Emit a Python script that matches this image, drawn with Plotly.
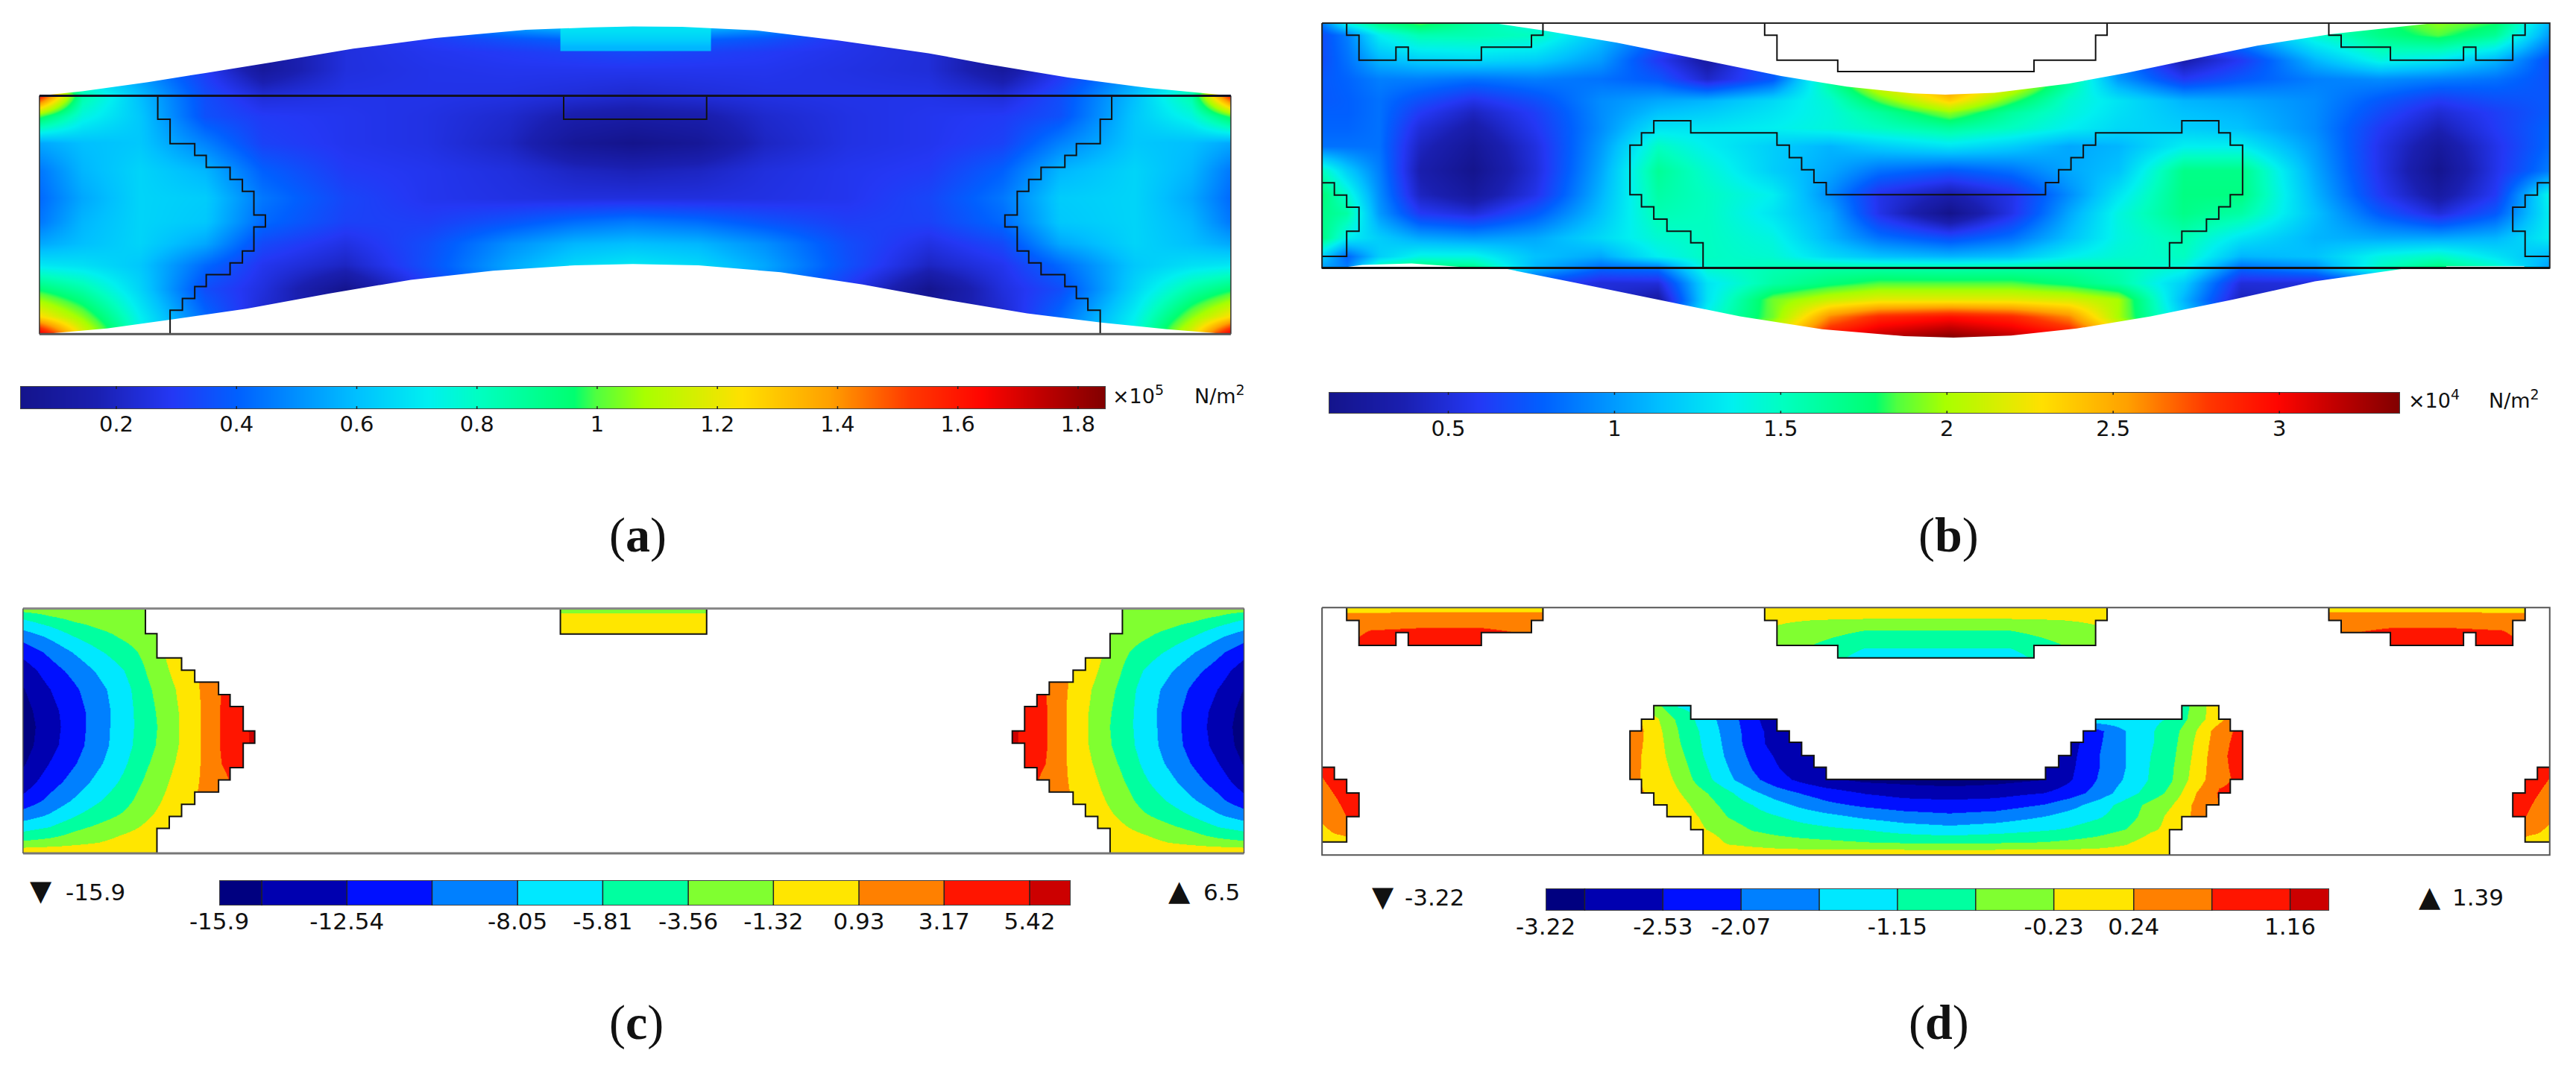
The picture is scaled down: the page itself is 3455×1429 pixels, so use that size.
import plotly.graph_objects as go

W, H = 3455, 1429
FONT = "DejaVu Sans"

# ---- panel (a): stress field, x/y read in the crop coordinates of the tile
a_x = [48, 100, 170, 250, 320, 420, 520, 620, 700, 770, 850, 930, 1030, 1130, 1220, 1290, 1380, 1450, 1498]
a_y = [85, 130, 170, 230, 315, 380, 470, 560, 650, 730, 800, 870, 950, 1040, 1098]
a_z = [
    [.6, .6, .5, .3, .2, .25, .4, .55, .62, .64, .62, .55, .4, .2, .15, .3, .5, .6, .6],
    [.6, .6, .5, .3, .17, .25, .3, .36, .4, .42, .4, .36, .28, .22, .13, .25, .5, .6, .6],
    [.6, .6, .5, .3, .1, .25, .28, .3, .32, .34, .32, .3, .27, .24, .1, .25, .5, .6, .6],
    [.6, .6, .5, .3, .1, .25, .27, .28, .28, .28, .28, .28, .26, .24, .1, .28, .5, .6, .6],
    [1.6, .85, .6, .35, .24, .27, .27, .26, .24, .22, .24, .26, .27, .27, .24, .35, .6, .85, 1.6],
    [1.0, .75, .62, .36, .3, .28, .26, .22, .15, .13, .15, .22, .26, .28, .3, .36, .62, .75, 1.0],
    [.55, .6, .62, .47, .32, .28, .26, .2, .08, .04, .08, .2, .26, .28, .32, .47, .62, .6, .55],
    [.45, .58, .65, .58, .4, .3, .28, .25, .2, .18, .2, .25, .28, .3, .4, .58, .65, .58, .45],
    [.42, .55, .65, .63, .45, .33, .28, .26, .25, .25, .25, .26, .28, .33, .45, .63, .65, .55, .42],
    [.45, .58, .65, .62, .42, .32, .31, .37, .43, .46, .43, .37, .31, .32, .42, .62, .65, .58, .45],
    [.55, .6, .65, .55, .34, .26, .35, .5, .58, .6, .58, .5, .35, .26, .34, .55, .65, .6, .55],
    [.7, .68, .62, .42, .28, .2, .36, .55, .66, .7, .66, .55, .36, .2, .28, .42, .62, .68, .7],
    [.95, .85, .65, .35, .25, .05, .3, .5, .62, .66, .62, .5, .3, .05, .25, .35, .65, .85, .95],
    [1.25, 1.05, .72, .42, .22, .1, .3, .5, .6, .65, .6, .5, .3, .1, .22, .42, .72, 1.05, 1.25],
    [1.7, 1.2, .75, .45, .25, .1, .3, .5, .6, .65, .6, .5, .3, .1, .25, .45, .75, 1.2, 1.7],
]
a_patch_x = [682, 770, 865]
a_patch_y = [87, 115, 140, 168]
a_patch_z = [[.68, .68], [.64, .64], [.58, .58]]

# ---- panel (b)
b_x = [41, 71, 110, 160, 225, 300, 380, 450, 510, 590, 660, 720, 805, 880, 950, 1010, 1090, 1160, 1250, 1330, 1400, 1470, 1536]
b_y = [76, 116, 198, 260, 330, 370, 420, 480, 560, 640, 700, 780, 843, 881, 930, 985, 1040, 1110]
b_z = [
    [.9, 1.4, 1.7, 1.85, 1.6, 1.4, 1.2, .9, .75, 1.0, 1.6, 2.2, 2.6, 2.2, 1.6, 1.0, .8, 1.0, 1.5, 1.75, 1.95, 1.8, 1.1],
    [.7, .9, 1.35, 1.55, 1.55, 1.5, 1.15, .8, .7, 1.0, 1.6, 2.2, 2.6, 2.2, 1.6, 1.0, .7, 1.0, 1.45, 1.7, 1.85, 1.65, 1.0],
    [.7, .85, 1.1, 1.2, 1.25, 1.2, 1.0, .6, .3, .8, 1.6, 2.2, 2.6, 2.2, 1.6, .9, .35, .6, 1.1, 1.4, 1.3, 1.1, .7],
    [.75, .8, .9, .9, .85, .9, .85, .75, .45, .75, 1.65, 2.3, 2.75, 2.3, 1.65, 1.0, .6, .75, .9, .95, .9, .85, .72],
    [.75, .78, .85, .7, .55, .7, .95, 1.05, 1.1, 1.25, 1.45, 1.85, 2.35, 1.85, 1.45, 1.3, 1.1, 1.05, .95, .75, .6, .7, .75],
    [.78, .78, .85, .6, .42, .62, .95, 1.15, 1.2, 1.3, 1.42, 1.62, 1.95, 1.62, 1.42, 1.28, 1.15, 1.1, .95, .68, .48, .62, .76],
    [.8, .8, .85, .5, .32, .58, .95, 1.3, 1.3, 1.35, 1.42, 1.5, 1.62, 1.5, 1.35, 1.25, 1.2, 1.15, .95, .6, .38, .6, .8],
    [.85, .85, .85, .42, .22, .52, 1.0, 1.5, 1.35, 1.2, 1.1, 1.2, 1.3, 1.2, 1.05, 1.1, 1.35, 1.35, 1.0, .55, .25, .55, .82],
    [1.5, 1.2, .9, .35, .15, .5, 1.05, 1.65, 1.45, 1.2, 1.05, .85, .75, .85, 1.05, 1.15, 1.7, 1.7, 1.05, .55, .16, .55, .9],
    [1.75, 1.45, .95, .42, .25, .55, 1.1, 1.6, 1.5, 1.35, .95, .55, .35, .55, .95, 1.3, 1.72, 1.72, 1.1, .6, .28, .6, 1.4],
    [1.7, 1.6, 1.0, .6, .5, .75, 1.15, 1.55, 1.5, 1.3, 1.05, .55, .14, .55, 1.05, 1.4, 1.7, 1.6, 1.15, .75, .5, .75, 1.35],
    [1.7, 1.35, 1.2, 1.05, 1.0, 1.05, 1.25, 1.45, 1.5, 1.4, 1.1, .85, .7, .85, 1.15, 1.4, 1.55, 1.3, 1.1, 1.05, 1.05, 1.1, 1.35],
    [1.2, .8, 1.2, 1.4, 1.4, 1.15, 1.05, 1.35, 1.5, 1.45, 1.25, 1.15, 1.1, 1.15, 1.35, 1.45, 1.5, 1.1, 1.15, 1.4, 1.5, 1.3, 1.1],
    [1.0, .9, 1.6, 1.8, 1.7, 1.1, .8, .85, 1.45, 1.55, 1.6, 1.6, 1.58, 1.6, 1.6, 1.55, 1.4, .8, .95, 1.5, 1.75, 1.5, 1.0],
    [.9, .9, .9, .9, .9, .7, .5, .5, 1.3, 1.6, 1.75, 1.85, 1.85, 1.85, 1.75, 1.6, 1.2, .5, .5, .8, .9, .9, .9],
    [.9, .9, .9, .8, .7, .6, .5, .3, 1.3, 1.9, 2.1, 2.2, 2.2, 2.2, 2.15, 2.0, 1.1, .4, .5, .7, .9, .9, .9],
    [.9, .9, .9, .8, .7, .6, .5, .5, 1.4, 1.9, 2.6, 2.85, 2.95, 2.85, 2.6, 2.0, 1.2, .6, .6, .7, .9, .9, .9],
    [.9, .9, .9, .8, .7, .6, .5, .6, 1.5, 2.2, 3.0, 3.2, 3.36, 3.2, 3.0, 2.4, 1.3, .6, .6, .7, .9, .9, .9],
]

# ---- panel (c): the two sides are mirror images, the field is listed for the left one
c_left_x = [28, 60, 90, 120, 150, 180, 210, 240, 270, 310]
c_right_x = [1232, 1272, 1302, 1332, 1362, 1392, 1422, 1452, 1482, 1514]
c_y = [88, 110, 140, 180, 230, 290, 350, 420, 470, 530, 590, 650, 710, 760, 800, 830, 860, 882]
c_z = [
    [-2.5, -2, -1.7, -1.5, -1.4, -1.3, -1, .5, 2.5, 5],
    [-5, -3.5, -2.6, -2.2, -1.8, -1.5, -1, .5, 2.5, 5],
    [-7, -5.5, -4, -3.1, -2.5, -1.8, -1, .6, 2.5, 5],
    [-9.5, -7.8, -5.9, -4.5, -3.3, -2.2, -.8, .7, 2.5, 5],
    [-11.8, -9.8, -7.9, -6.1, -4.6, -2.8, -.5, .9, 2.5, 5],
    [-13.8, -11.4, -9.6, -7.7, -5.9, -3.3, -1, .9, 2.6, 5],
    [-14.9, -12.6, -10.7, -8.7, -6.7, -3.9, -1.6, .7, 3.2, 5],
    [-15.6, -13.3, -11.3, -9.1, -6.9, -4.3, -1.9, .5, 3.4, 5.3],
    [-15.9, -13.5, -11.4, -9.1, -6.8, -4.5, -2, .5, 3.4, 5.9],
    [-15.7, -13.3, -11.2, -9, -6.7, -4.3, -1.9, .5, 3.4, 5.8],
    [-15, -12.5, -10.5, -8.4, -6.2, -3.7, -1.5, .6, 3.2, 5.2],
    [-13.8, -11.3, -9.4, -7.3, -5.4, -3, -1, .8, 2.6, 5],
    [-11.8, -9.7, -7.8, -6, -4.4, -2.2, -.6, 1, 2.5, 5],
    [-9, -7.7, -5.9, -4.4, -3.2, -1.5, -.3, .8, 2.5, 5],
    [-6.5, -5.6, -4, -3, -2, -.8, 0, .9, 2.5, 5],
    [-4.5, -3.6, -2.7, -2, -.9, -.2, .2, .9, 2.5, 5],
    [-1.5, -1.3, -1, -.7, 0, .2, .4, .9, 2.5, 5],
    [0, .2, .3, .4, .6, .7, .7, .9, 2.5, 5],
]
c_mid_x = [682, 860]
c_mid_y = [88, 100, 105, 171]
c_mid_z = [[-2, -2], [-2, -2], [0, 0], [0, 0]]

# ---- panel (d)
d_tl_x = [71, 100, 160, 235, 296, 310]
d_tr_x = [1267, 1281, 1342, 1417, 1477, 1506]
d_top_y = [85, 98, 105, 160, 180, 208]
d_tl_z = [
    [0, 0, 0, 0, 0, 0],
    [.2, .2, .2, .2, .2, .2],
    [.3, .3, .35, .35, .35, .35],
    [.55, .72, .78, .78, .62, .55],
    [.6, .8, .9, .9, .7, .6],
    [.65, .9, 1, 1, .8, .7],
]
d_tc_x = [580, 595, 640, 700, 790, 880, 940, 983, 997]
d_tc_y = [85, 120, 160, 205, 218, 248]
d_tc_z = [
    [.1, .1, .1, .1, .1, .1, .1, .1, .1],
    [-.1, -.15, -.2, -.23, -.23, -.23, -.2, -.15, -.1],
    [-.1, -.3, -.5, -.69, -.72, -.69, -.5, -.3, -.1],
    [-.1, -.35, -.7, -1, -1.05, -1, -.7, -.35, -.1],
    [-.1, -.35, -.8, -1.15, -1.17, -1.15, -.8, -.35, -.1],
    [-.1, -.35, -.9, -1.3, -1.4, -1.3, -.9, -.35, -.1],
]
d_side_l_x = [41, 56, 71, 86]
d_side_r_x = [1491, 1506, 1521, 1536]
d_side_y = [603, 650, 700, 765, 800, 845]
d_side_z = [
    [.8, .9, 1, 1],
    [.65, .85, 1, 1],
    [.45, .68, .85, .95],
    [.28, .5, .7, .8],
    [.2, .3, .3, .3],
    [.1, .15, .2, .2],
]
d_u_x = [416, 445, 475, 505, 535, 565, 595, 625, 655, 700, 750, 805, 860, 920, 950, 985, 1020, 1050, 1075, 1105, 1133, 1162]
d_u_y = [403, 447, 485, 525, 565, 603, 642, 686, 725, 763, 805, 845, 870, 887]
d_u_z = [
    [.3, -.5, -1.2, -1.3, -1.4, -1.5, -1.6, -1.7, -1.8, -2, -2, -2, -2, -1.5, -1.4, -1.3, -1.3, -1.3, -1.2, -.5, .1, .5],
    [.5, -.1, -.8, -1.35, -1.85, -2.35, -3, -3, -3, -3, -3, -3, -3, -2.5, -1.8, -1.3, -1.3, -1.25, -1.1, -.45, .1, .8],
    [.55, 0, -.7, -1.25, -1.8, -2.3, -2.8, -3, -3, -3, -3, -3, -3, -3, -2.8, -2.2, -1.6, -1.2, -.9, -.23, .5, .85],
    [.45, .05, -.65, -1.2, -1.75, -2.3, -2.75, -3, -3, -3, -3, -3, -3, -3, -2.75, -2.15, -1.6, -1.2, -.85, -.15, .55, .9],
    [.4, .05, -.55, -1.15, -1.7, -2.2, -2.6, -2.95, -3, -3, -3, -3, -3, -3, -2.7, -2.1, -1.6, -1.15, -.8, -.1, .6, .9],
    [.35, .1, -.45, -1.05, -1.6, -2.1, -2.5, -2.85, -3, -3.1, -3.1, -3.15, -3.1, -3, -2.65, -2.1, -1.6, -1.12, -.75, -.05, .6, .85],
    [.3, .15, -.35, -.95, -1.5, -1.95, -2.35, -2.65, -2.9, -3.1, -3.15, -3.22, -3.15, -3, -2.6, -2.05, -1.55, -1.1, -.72, 0, .6, .8],
    [.3, .2, -.2, -.62, -1.05, -1.5, -1.85, -2.1, -2.3, -2.55, -2.7, -2.75, -2.7, -2.53, -2.3, -1.9, -1.35, -.95, -.55, .24, .75, .8],
    [.3, .25, -.05, -.45, -.85, -1.15, -1.45, -1.72, -1.95, -2.15, -2.3, -2.35, -2.3, -2.05, -1.8, -1.4, -.95, -.55, -.25, .35, .7, .7],
    [.3, .3, .05, -.3, -.7, -.95, -1.12, -1.3, -1.45, -1.68, -1.85, -1.95, -1.85, -1.6, -1.4, -1.2, -.9, -.45, -.1, .35, .6, .6],
    [.2, .2, .2, -.2, -.45, -.72, -.85, -.97, -1.05, -1.15, -1.35, -1.45, -1.35, -1.2, -1.1, -.9, -.68, -.3, -.1, .2, .2, .2],
    [.2, .2, .2, .1, -.3, -.4, -.5, -.55, -.6, -.68, -.75, -.8, -.75, -.68, -.6, -.5, -.3, 0, .1, .2, .2, .2],
    [.2, .2, .2, .1, -.05, -.12, -.17, -.2, -.21, -.22, -.23, -.23, -.23, -.22, -.21, -.17, -.1, .05, .1, .2, .2, .2],
    [.2, .2, .2, .1, .1, .1, .1, .1, .1, .1, .1, .1, .1, .1, .1, .1, .1, .1, .1, .2, .2, .2],
]

# ---- colour bars
a_range = [.04, 1.846]
a_ticks = [.2, .4, .6, .8, 1, 1.2, 1.4, 1.6, 1.8]
a_labels = ["0.2", "0.4", "0.6", "0.8", "1", "1.2", "1.4", "1.6", "1.8"]
b_range = [.14, 3.363]
b_ticks = [.5, 1, 1.5, 2, 2.5, 3]
b_labels = ["0.5", "1", "1.5", "2", "2.5", "3"]
c_edges = [-15.9, -14.78, -12.54, -10.3, -8.05, -5.81, -3.56, -1.32, .93, 3.17, 5.42, 6.5]
c_ticks = [-15.9, -12.54, -8.05, -5.81, -3.56, -1.32, .93, 3.17, 5.42]
c_labels = ["-15.9", "-12.54", "-8.05", "-5.81", "-3.56", "-1.32", "0.93", "3.17", "5.42"]
d_edges = [-3.22, -2.99, -2.53, -2.07, -1.61, -1.15, -.69, -.23, .24, .7, 1.16, 1.39]
d_ticks = [-3.22, -2.53, -2.07, -1.15, -.23, .24, 1.16]
d_labels = ["-3.22", "-2.53", "-2.07", "-1.15", "-0.23", "0.24", "1.16"]

smooth_stops = [
    (0, "#14148c"), (.07, "#1a1fb0"), (.14, "#2438f5"), (.2, "#0060ff"), (.31, "#00c0ff"),
    (.376, "#00f0f0"), (.424, "#00ffc0"), (.51, "#00ff70"), (.53, "#50ff40"), (.575, "#a8ff00"),
    (.665, "#ffe000"), (.745, "#ffa000"), (.82, "#ff3800"), (.885, "#ff0500"), (.94, "#c00000"), (1, "#800000"),
]
band_colors = ["#000080", "#0000b0", "#0010ff", "#0080ff", "#00e8ff", "#00ffa0",
               "#80ff30", "#ffe600", "#ff8000", "#ff1500", "#cc0000"]


def stepped(edges):
    lo, hi = edges[0], edges[-1]
    scale = []
    for i, col in enumerate(band_colors):
        scale.append([(edges[i] - lo) / (hi - lo), col])
        scale.append([(edges[i + 1] - lo) / (hi - lo), col])
    return scale


def path(points):
    return "M " + " L ".join(f"{x},{y}" for x, y in points)


def closed(points):
    return path(points) + " Z"


# ---- outlines, in the same tile coordinates as the fields
a_top = [(48, 315), (100, 300), (180, 270), (250, 240), (330, 205), (430, 160), (530, 125), (640, 98), (720, 90),
         (770, 87), (830, 88), (920, 100), (1020, 133), (1130, 175), (1200, 210), (1300, 255), (1400, 290), (1498, 315)]
a_bot = [(1498, 1098), (1480, 1095), (1420, 1082), (1340, 1060), (1250, 1030), (1150, 985), (1050, 935), (950, 895),
         (850, 872), (770, 868), (700, 872), (600, 890), (500, 920), (400, 965), (300, 1015), (210, 1050), (130, 1080),
         (65, 1095), (48, 1098)]
a_step_l = [(192, 315), (192, 392), (207, 392), (207, 472), (237, 472), (237, 511), (251, 511), (251, 550), (280, 550),
            (280, 590), (295, 590), (295, 629), (309, 629), (309, 707), (323, 707), (323, 746), (309, 746), (309, 825),
            (295, 825), (295, 864), (280, 864), (280, 903), (251, 903), (251, 942), (237, 942), (237, 981), (222, 981),
            (222, 1020), (207, 1020), (207, 1098)]
a_step_r = [(1353, 315), (1353, 392), (1339, 392), (1339, 472), (1310, 472), (1310, 511), (1296, 511), (1296, 550),
            (1267, 550), (1267, 590), (1252, 590), (1252, 629), (1238, 629), (1238, 707), (1223, 707), (1223, 746),
            (1238, 746), (1238, 825), (1252, 825), (1252, 864), (1267, 864), (1267, 903), (1296, 903), (1296, 942),
            (1310, 942), (1310, 981), (1324, 981), (1324, 1020), (1339, 1020), (1339, 1098)]
a_block = [(686, 315), (686, 392), (860, 392), (860, 315)]

b_hole = [(41, 76), (250, 76), (310, 100), (400, 140), (500, 195), (600, 250), (680, 285), (760, 307), (800, 311),
          (860, 305), (950, 275), (1020, 240), (1100, 195), (1180, 150), (1270, 112), (1395, 76), (1536, 76),
          (1536, 881), (1505, 881), (1505, 875), (1410, 875), (1410, 881), (1365, 881), (1250, 925), (1150, 985),
          (1050, 1040), (960, 1080), (880, 1103), (810, 1110), (750, 1105), (650, 1082), (550, 1040), (450, 985),
          (350, 930), (260, 881), (228, 881), (150, 866), (90, 871), (62, 881), (41, 881)]
b_tl = [(71, 76), (71, 116), (86, 116), (86, 198), (131, 198), (131, 155), (146, 155), (146, 198), (235, 198),
        (235, 155), (296, 155), (296, 116), (310, 116), (310, 76)]
b_tc = [(580, 76), (580, 116), (595, 116), (595, 198), (669, 198), (669, 235), (908, 235), (908, 198), (983, 198),
        (983, 116), (997, 116), (997, 76)]
b_tr = [(1267, 76), (1267, 116), (1282, 116), (1282, 155), (1342, 155), (1342, 198), (1431, 198), (1431, 155),
        (1446, 155), (1446, 198), (1491, 198), (1491, 116), (1506, 116), (1506, 76)]
b_u = [(505, 881), (505, 798), (490, 798), (490, 760), (461, 760), (461, 720), (445, 720), (445, 680), (430, 680),
       (430, 640), (416, 640), (416, 477), (430, 477), (430, 437), (445, 437), (445, 397), (490, 397), (490, 437),
       (595, 437), (595, 477), (610, 477), (610, 518), (625, 518), (625, 558), (640, 558), (640, 600), (655, 600),
       (655, 640), (922, 640), (922, 600), (938, 600), (938, 558), (953, 558), (953, 518), (968, 518), (968, 477),
       (983, 477), (983, 437), (1088, 437), (1088, 397), (1133, 397), (1133, 437), (1147, 437), (1147, 477),
       (1162, 477), (1162, 640), (1147, 640), (1147, 680), (1133, 680), (1133, 720), (1118, 720), (1118, 760),
       (1088, 760), (1088, 798), (1073, 798), (1073, 881)]
b_sl = [(41, 601), (56, 601), (56, 641), (71, 641), (71, 681), (86, 681), (86, 760), (71, 760), (71, 843), (41, 843)]
b_sr = [(1536, 601), (1521, 601), (1521, 641), (1506, 641), (1506, 681), (1491, 681), (1491, 760), (1506, 760),
        (1506, 843), (1536, 843)]

c_step_l = [(177, 88), (177, 170), (191, 170), (191, 248), (221, 248), (221, 288), (237, 288), (237, 327), (266, 327),
            (266, 367), (280, 367), (280, 406), (296, 406), (296, 485), (310, 485), (310, 525), (296, 525), (296, 604),
            (280, 604), (280, 644), (266, 644), (266, 683), (237, 683), (237, 723), (221, 723), (221, 762), (206, 762),
            (206, 801), (191, 801), (191, 882)]
c_step_r = [(1366, 88), (1366, 170), (1351, 170), (1351, 248), (1321, 248), (1321, 288), (1306, 288), (1306, 327),
            (1277, 327), (1277, 367), (1262, 367), (1262, 406), (1247, 406), (1247, 485), (1232, 485), (1232, 525),
            (1247, 525), (1247, 604), (1262, 604), (1262, 644), (1277, 644), (1277, 683), (1306, 683), (1306, 723),
            (1321, 723), (1321, 762), (1336, 762), (1336, 801), (1351, 801), (1351, 882)]
c_block = [(682, 88), (682, 171), (860, 171), (860, 88)]

d_tl = [(71, 85), (71, 127), (86, 127), (86, 208), (131, 208), (131, 166), (146, 166), (146, 208), (235, 208),
        (235, 166), (296, 166), (296, 127), (310, 127), (310, 85)]
d_tc = [(580, 85), (580, 127), (595, 127), (595, 208), (669, 208), (669, 248), (908, 248), (908, 208), (983, 208),
        (983, 127), (997, 127), (997, 85)]
d_tr = [(1267, 85), (1267, 127), (1282, 127), (1282, 166), (1342, 166), (1342, 208), (1431, 208), (1431, 166),
        (1446, 166), (1446, 208), (1491, 208), (1491, 127), (1506, 127), (1506, 85)]
d_u = [(505, 887), (505, 805), (490, 805), (490, 763), (461, 763), (461, 725), (445, 725), (445, 686), (430, 686),
       (430, 642), (416, 642), (416, 485), (430, 485), (430, 447), (445, 447), (445, 403), (490, 403), (490, 447),
       (595, 447), (595, 485), (610, 485), (610, 522), (625, 522), (625, 565), (640, 565), (640, 603), (655, 603),
       (655, 642), (922, 642), (922, 603), (938, 603), (938, 565), (953, 565), (953, 522), (968, 522), (968, 485),
       (983, 485), (983, 447), (1088, 447), (1088, 403), (1133, 403), (1133, 447), (1147, 447), (1147, 485),
       (1162, 485), (1162, 642), (1147, 642), (1147, 686), (1133, 686), (1133, 725), (1118, 725), (1118, 763),
       (1088, 763), (1088, 805), (1073, 805), (1073, 887)]
d_sl = [(41, 603), (56, 603), (56, 642), (71, 642), (71, 686), (86, 686), (86, 763), (71, 763), (71, 845), (41, 845)]
d_sr = [(1536, 603), (1521, 603), (1521, 642), (1506, 642), (1506, 686), (1491, 686), (1491, 763), (1506, 763),
        (1506, 845), (1536, 845)]

fig = go.Figure()


def ref(tile):
    return str(tile) if tile > 1 else ""


def field(x, y, z, axis, tile, smooth="best"):
    fig.add_trace(go.Heatmap(x=x, y=y, z=z, coloraxis=axis, zsmooth=smooth, hoverinfo="skip",
                             xaxis=f"x{ref(tile)}", yaxis=f"y{ref(tile)}"))


field(a_x, a_y, a_z, "coloraxis", 1)
field(a_patch_x, a_patch_y, a_patch_z, "coloraxis", 1)
field(b_x, b_y, b_z, "coloraxis2", 2)
field(c_left_x, c_y, c_z, "coloraxis3", 3)
field(c_right_x, c_y, [row[::-1] for row in c_z], "coloraxis3", 3)
field(c_mid_x, c_mid_y, c_mid_z, "coloraxis3", 3)
field(d_tl_x, d_top_y, d_tl_z, "coloraxis4", 4)
field(d_tr_x, d_top_y, [row[::-1] for row in d_tl_z], "coloraxis4", 4)
field(d_tc_x, d_tc_y, d_tc_z, "coloraxis4", 4)
field(d_side_l_x, d_side_y, d_side_z, "coloraxis4", 4)
field(d_side_r_x, d_side_y, [row[::-1] for row in d_side_z], "coloraxis4", 4)
field(d_u_x, d_u_y, d_u_z, "coloraxis4", 4)


def mask(tile, bottom, holes):
    outer = closed([(0, 0), (1568, 0), (1568, bottom), (0, bottom)])
    fig.add_shape(type="path", path=" ".join([outer] + [closed(h) for h in holes]), fillrule="evenodd",
                  fillcolor="white", line_width=0, xref=f"x{ref(tile)}", yref=f"y{ref(tile)}", layer="above")


def outline(tile, points, color="#111111", width=2):
    fig.add_shape(type="path", path=path(points), line=dict(color=color, width=width),
                  xref=f"x{ref(tile)}", yref=f"y{ref(tile)}", layer="above")


mask(1, 1200, [a_top + a_bot])
mask(2, 1200, [b_hole])
mask(3, 950, [[(28, 88)] + c_step_l + [(28, 882)], c_block, [(1514, 88)] + c_step_r + [(1514, 882)]])
mask(4, 980, [d_tl, d_tc, d_tr, d_u, d_sl, d_sr])

for pts in (a_step_l, a_step_r, a_block):
    outline(1, pts)
outline(1, [(48, 315), (48, 1098)], "#333333", 1.5)
outline(1, [(1498, 315), (1498, 1098)], "#333333", 1.5)
outline(1, [(48, 315), (1498, 315)], "#111122", 3)
outline(1, [(48, 1098), (1498, 1098)], "#555555", 3)

for pts in (b_tl, b_tc, b_tr, b_u, b_sl, b_sr):
    outline(2, pts)
outline(2, [(41, 76), (1536, 76), (1536, 881), (41, 881), (41, 76)], "#222222", 2)
outline(2, [(41, 881), (1536, 881)], "#111111", 3)

for pts in (c_step_l, c_step_r, c_block):
    outline(3, pts)
outline(3, [(28, 88), (1514, 88)], "#888888", 3)
outline(3, [(28, 882), (1514, 882)], "#777777", 3)
outline(3, [(28, 88), (28, 882)], "#555555", 1.5)
outline(3, [(1514, 88), (1514, 882)], "#555555", 1.5)

for pts in (d_tl, d_tc, d_tr, d_u, d_sl, d_sr):
    outline(4, pts)
outline(4, [(41, 85), (1536, 85), (1536, 887), (41, 887), (41, 85)], "#555555", 2)


# the colour bars are small heatmaps on their own axes, so every band edge can carry a mark
def bar_axes(tile, px0, px1, py0, py1, lo, hi, tickvals, ticktext, size, standoff):
    fig.update_layout({
        f"xaxis{tile}": dict(domain=[px0 / W, px1 / W], range=[lo, hi], anchor=f"y{tile}", side="bottom",
                             fixedrange=True, showgrid=False, zeroline=False, ticks="", tickmode="array",
                             tickvals=tickvals, ticktext=ticktext, ticklabelstandoff=standoff,
                             tickfont=dict(family=FONT, size=size, color="#111111")),
        f"yaxis{tile}": dict(domain=[1 - py1 / H, 1 - py0 / H], range=[0, 1], anchor=f"x{tile}",
                             visible=False, fixedrange=True),
    })
    fig.add_shape(type="rect", x0=lo, x1=hi, y0=0, y1=1, xref=f"x{tile}", yref=f"y{tile}", layer="above",
                  line=dict(color="#444444", width=2))


def bar_mark(tile, value, y0, y1):
    fig.add_shape(type="line", x0=value, x1=value, y0=y0, y1=y1, xref=f"x{tile}", yref=f"y{tile}", layer="above",
                  line=dict(color="#222222", width=1.5))


def smooth_bar(tile, axis, px0, px1, py0, py1, span, tickvals, ticktext, size, standoff):
    lo, hi = span
    levels = [lo + t * (hi - lo) for t, _ in smooth_stops]
    field(levels, [0, 1], [levels, levels], axis, tile)
    bar_axes(tile, px0, px1, py0, py1, lo, hi, tickvals, ticktext, size, standoff)
    for value in tickvals:
        bar_mark(tile, value, 0, .13)
        bar_mark(tile, value, .87, 1)


def band_bar(tile, axis, px0, px1, py0, py1, edges, tickvals, ticktext, size, standoff):
    mids = [(edges[i] + edges[i + 1]) / 2 for i in range(len(edges) - 1)]
    field(edges, [0, 1], [mids], axis, tile, smooth=False)
    bar_axes(tile, px0, px1, py0, py1, edges[0], edges[-1], tickvals, ticktext, size, standoff)
    for value in edges[1:-1]:
        bar_mark(tile, value, 0, 1)


smooth_bar(5, "coloraxis", 27, 1483, 518, 549, a_range, a_ticks, a_labels, 29, 0)
smooth_bar(6, "coloraxis2", 1782, 3219, 526, 555, b_range, b_ticks, b_labels, 29, 0)
band_bar(7, "coloraxis3", 294, 1436, 1181, 1215, c_edges, c_ticks, c_labels, 31, 0)
band_bar(8, "coloraxis4", 2073, 3124, 1192, 1222, d_edges, d_ticks, d_labels, 31, 0)

hidden = dict(visible=False, fixedrange=True, range=[0, 1568])
fig.update_layout(
    width=W, height=H, autosize=False, paper_bgcolor="white", plot_bgcolor="rgba(0,0,0,0)",
    margin=dict(l=0, r=0, t=0, b=0, pad=0, autoexpand=False), showlegend=False,
    xaxis=dict(hidden, domain=[0, 1728 / W]),
    yaxis=dict(visible=False, fixedrange=True, range=[1568, 0], domain=[1 - 640 / H, 1]),
    xaxis2=dict(hidden, domain=[1728 / W, 1]),
    yaxis2=dict(visible=False, fixedrange=True, range=[1568, 0], domain=[1 - 640 / H, 1]),
    xaxis3=dict(hidden, domain=[0, 1728 / W]),
    yaxis3=dict(visible=False, fixedrange=True, range=[1568, 0], domain=[0, 649 / H]),
    xaxis4=dict(hidden, domain=[1728 / W, 1]),
    yaxis4=dict(visible=False, fixedrange=True, range=[1568, 0], domain=[0, 649 / H]),
    coloraxis=dict(colorscale=[[t, c] for t, c in smooth_stops], cmin=a_range[0], cmax=a_range[1], showscale=False),
    coloraxis2=dict(colorscale=[[t, c] for t, c in smooth_stops], cmin=b_range[0], cmax=b_range[1], showscale=False),
    coloraxis3=dict(colorscale=stepped(c_edges), cmin=c_edges[0], cmax=c_edges[-1], showscale=False),
    coloraxis4=dict(colorscale=stepped(d_edges), cmin=d_edges[0], cmax=d_edges[-1], showscale=False),
)


def note(px, py, text, size, family=FONT, anchor="center"):
    fig.add_annotation(xref="paper", yref="paper", x=px / W, y=1 - py / H, text=text, showarrow=False,
                       xanchor=anchor, yanchor="middle", font=dict(family=family, size=size, color="#111111"))


note(1490, 530, "×10<sup>5</sup>", 27, anchor="left")
note(1600, 530, "N/m<sup>2</sup>", 27, anchor="left")
note(3228, 535, "×10<sup>4</sup>", 27, anchor="left")
note(3336, 535, "N/m<sup>2</sup>", 27, anchor="left")

for px, py, letter in ((855, 718, "a"), (2613, 718, "b"), (853, 1372, "c"), (2600, 1372, "d")):
    note(px, py, f"(<b>{letter}</b>)", 66, family="Liberation Serif")

note(55, 1195, "▼", 38)
note(86, 1197, "-15.9", 31, anchor="left")
note(1582, 1195, "▲", 38)
note(1612, 1197, "6.5", 31, anchor="left")
note(1855, 1203, "▼", 38)
note(1882, 1204, "-3.22", 31, anchor="left")
note(3259, 1203, "▲", 38)
note(3287, 1204, "1.39", 31, anchor="left")

fig.write_html("out.html", config={"displayModeBar": False}, post_script="document.body.style.margin='0';")
